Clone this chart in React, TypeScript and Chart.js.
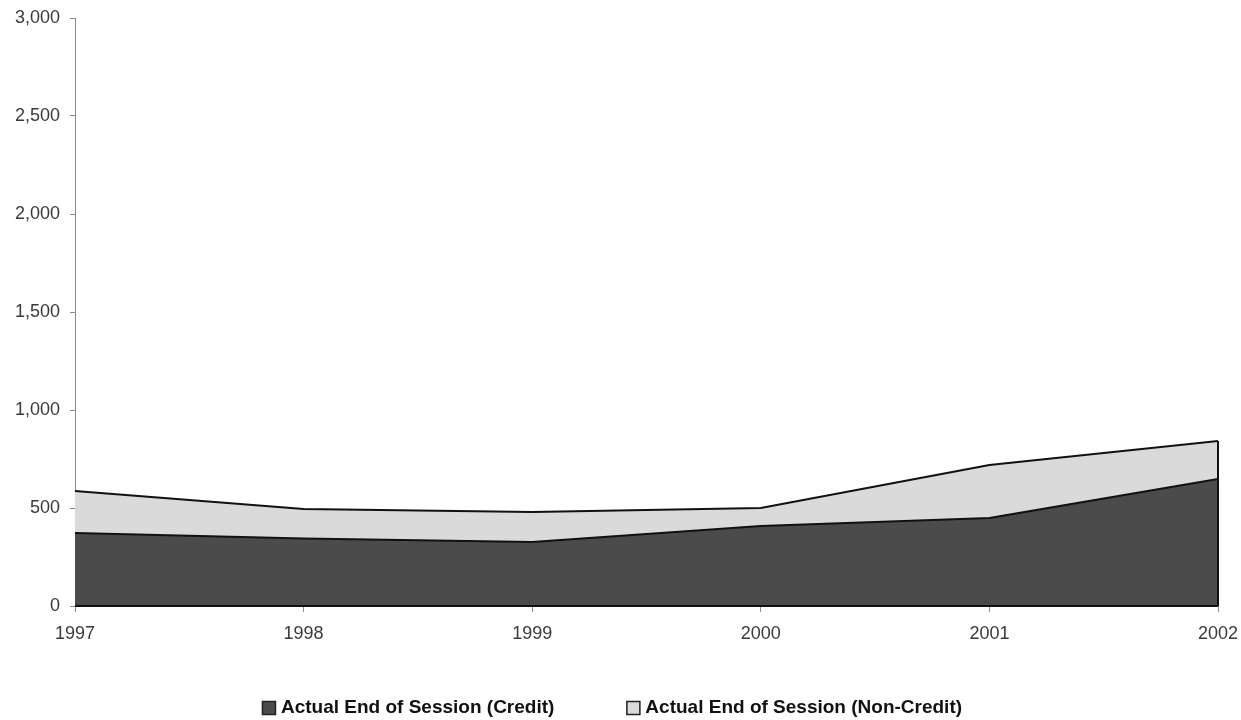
import React, { useEffect, useRef } from "react";
import { Chart, registerables } from "chart.js";

Chart.register(...registerables);

const years = ["1997", "1998", "1999", "2000", "2001", "2002"];
const creditValues = [372, 345, 327, 408, 449, 648];
const nonCreditValues = [215, 150, 153, 92, 270, 194];
const yTicks = [0, 500, 1000, 1500, 2000, 2500, 3000];
const seriesLabels = ["Actual End of Session (Credit)", "Actual End of Session (Non-Credit)"];
const seriesColors = ["#4b4b4b", "#dadada"];

const FONT = "'Liberation Sans', Arial, sans-serif";

const edgePlugin = {
  id: "edge",
  afterDatasetsDraw(chart: any) {
    const meta = chart.getDatasetMeta(1);
    const last = meta.data[meta.data.length - 1];
    if (!last) return;
    const ctx = chart.ctx;
    const yScale = chart.scales.y;
    ctx.save();
    ctx.strokeStyle = "#111";
    ctx.lineWidth = 2;
    ctx.beginPath();
    ctx.moveTo(last.x, yScale.getPixelForValue(0));
    ctx.lineTo(last.x, last.y);
    ctx.stroke();
    ctx.beginPath();
    ctx.moveTo(chart.chartArea.left, yScale.getPixelForValue(0));
    ctx.lineTo(last.x, yScale.getPixelForValue(0));
    ctx.stroke();
    ctx.restore();
  },
};

const legendPlugin = {
  id: "customLegend",
  afterDraw(chart: any) {
    const ctx = chart.ctx;
    const box = 14;
    const gap = 5;
    const itemGap = 72;
    ctx.save();
    ctx.font = `bold 19px ${FONT}`;
    const widths = seriesLabels.map((t) => ctx.measureText(t).width);
    const total = widths.reduce((a, w) => a + box + gap + w, 0) + itemGap * (seriesLabels.length - 1);
    const center = (chart.width - 23) / 2 + 3;
    let x = center - total / 2;
    const yc = chart.height - 12;
    ctx.textBaseline = "middle";
    ctx.textAlign = "left";
    seriesLabels.forEach((t, i) => {
      ctx.fillStyle = seriesColors[i];
      ctx.fillRect(x, yc - box / 2, box, box);
      ctx.strokeStyle = "#222";
      ctx.lineWidth = 1.5;
      ctx.strokeRect(x + 0.5, yc - box / 2 + 0.5, box - 1, box - 1);
      ctx.fillStyle = "#111";
      ctx.fillText(t, x + box + gap, yc);
      x += box + gap + widths[i] + itemGap;
    });
    ctx.restore();
  },
};

export default function App() {
  const ref = useRef<HTMLCanvasElement | null>(null);
  useEffect(() => {
    if (!ref.current) return;
    const chart = new Chart(ref.current, {
      type: "line",
      data: {
        labels: years,
        datasets: [
          {
            label: seriesLabels[0],
            data: creditValues,
            backgroundColor: seriesColors[0],
            borderColor: "#111",
            borderWidth: 2,
            fill: "origin",
            pointRadius: 0,
            tension: 0,
          },
          {
            label: seriesLabels[1],
            data: nonCreditValues,
            backgroundColor: seriesColors[1],
            borderColor: "#111",
            borderWidth: 2,
            fill: "-1",
            pointRadius: 0,
            tension: 0,
          },
        ],
      },
      options: {
        animation: false,
        responsive: false,
        maintainAspectRatio: false,
        layout: { padding: { top: 18, right: 23, left: 0, bottom: 74 } },
        plugins: {
          tooltip: { enabled: false },
          legend: { display: false },
        },
        scales: {
          x: {
            type: "category",
            offset: false,
            grid: { drawOnChartArea: false, drawTicks: true, tickLength: 6, color: "#888" },
            border: { display: true, color: "#888" },
            ticks: { font: { family: FONT, size: 18 }, color: "#3a3a3a", padding: 11, maxRotation: 0, autoSkip: false },
            afterFit: (s: any) => {
              s.height = 40;
              s.paddingLeft = 0;
              s.paddingRight = 0;
            },
          },
          y: {
            stacked: true,
            min: 0,
            max: 3000,
            afterBuildTicks: (s: any) => {
              s.ticks = yTicks.map((v) => ({ value: v }));
            },
            grid: { drawOnChartArea: false, drawTicks: true, tickLength: 5, color: "#888" },
            border: { display: true, color: "#888" },
            ticks: {
              font: { family: FONT, size: 18 },
              color: "#3a3a3a",
              padding: 10,
              callback: (v: any) => Number(v).toLocaleString("en-US"),
            },
            afterFit: (s: any) => {
              s.width = 75;
              s.paddingTop = 0;
              s.paddingBottom = 0;
            },
          },
        },
      },
      plugins: [edgePlugin, legendPlugin],
    });
    return () => chart.destroy();
  }, []);
  return (
    <div style={{ position: "fixed", left: 0, top: 0, width: 1241, height: 720, background: "#fff" }}>
      <canvas ref={ref} width={1241} height={720} />
    </div>
  );
}
